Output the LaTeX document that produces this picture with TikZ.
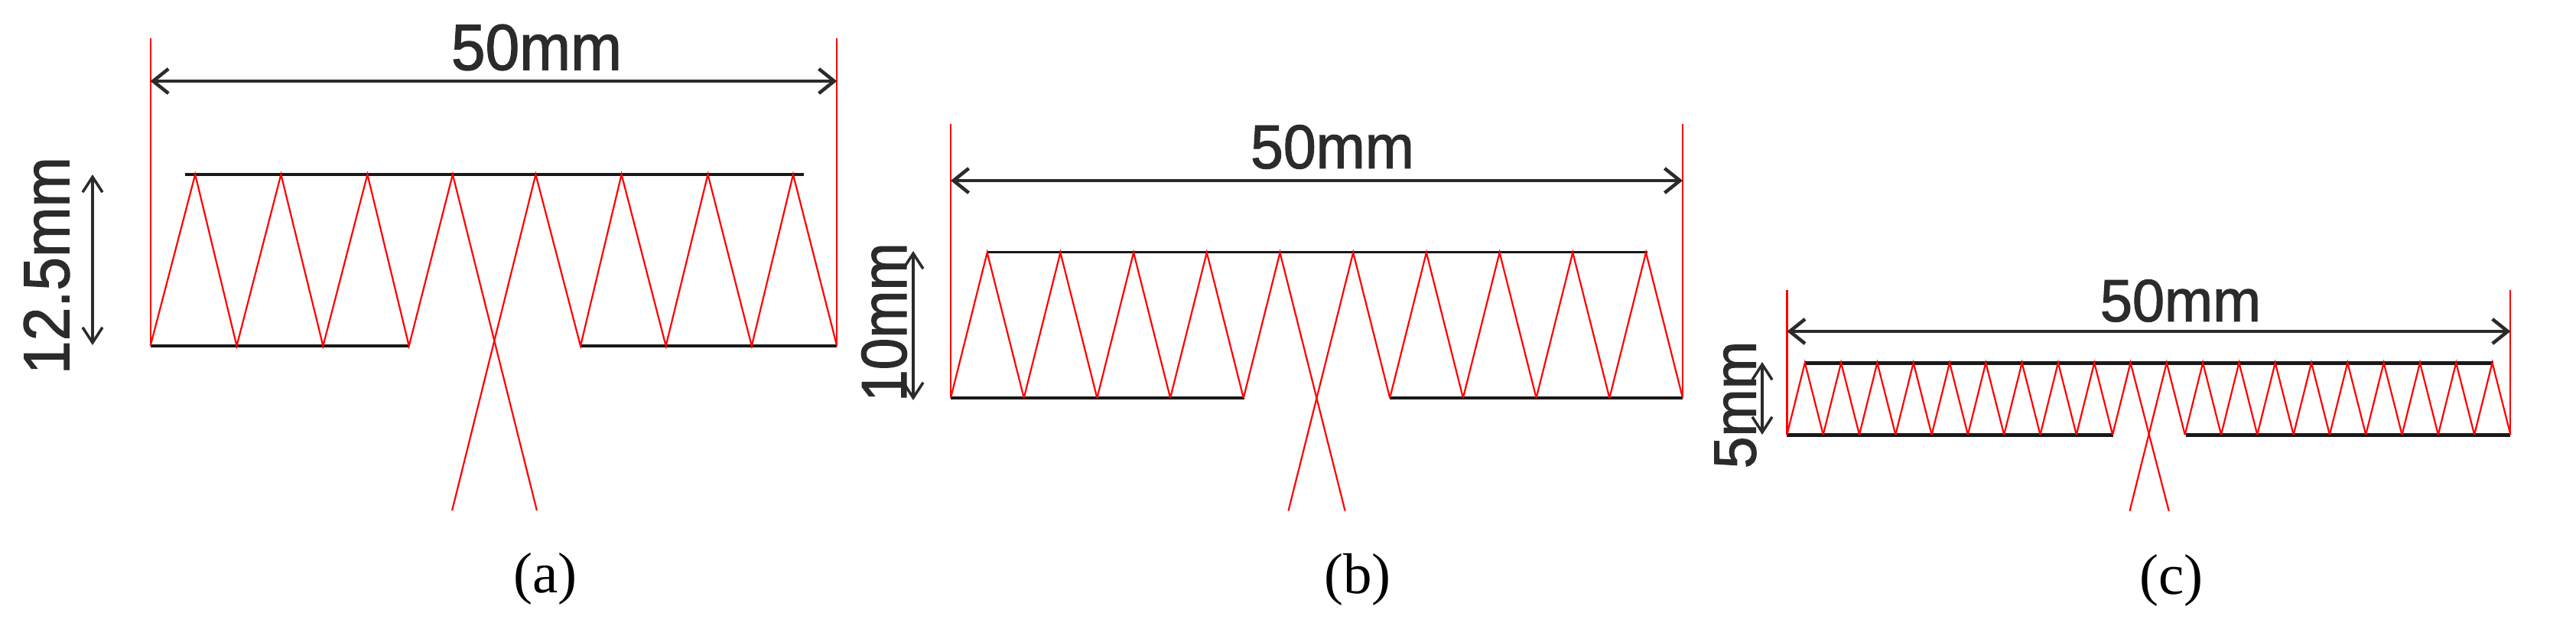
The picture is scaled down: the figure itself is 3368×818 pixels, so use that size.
\documentclass[tikz,border=0pt]{standalone}
\usepackage{fontspec}
\newfontfamily\labf[RawFeature={embolden=1.5}]{Liberation Sans}
\newfontfamily\capf{Liberation Serif}
\usetikzlibrary{arrows.meta}
\definecolor{ink}{HTML}{2B2B2B}
\tikzset{
  wire/.style={red,line width=2.2pt,line join=miter},
  bar/.style={black!90,line width=#1},
  bar/.default=3.5pt,
  dim/.style={ink,line width=4.5pt,{Straight Barb[length=20pt,width=32pt,line width=4.5pt]}-{Straight Barb[length=20pt,width=32pt,line width=4.5pt]}},
  vdim/.style={ink,line width=3.5pt,{Straight Barb[length=20pt,width=26pt,line width=3.5pt]}-{Straight Barb[length=20pt,width=26pt,line width=3.5pt]}},
  lab/.style={inner sep=0pt,text=ink,font=\labf\fontsize{#1}{#1}\selectfont},
  subcap/.style={inner sep=0pt,font=\capf\fontsize{75}{75}\selectfont},
}
% \zig{L}{P}{step}{n}{ytop}{ybot}{tailL}{tailR}{ytail}
\newcommand{\zig}[9]{%
  \pgfmathtruncatemacro{\nh}{#4/2}%
  \pgfmathtruncatemacro{\nn}{#4/2+1}%
  \foreach \i in {1,...,#4}{%
    \pgfmathsetmacro{\bl}{#1+(\i-1)*#3}%
    \pgfmathsetmacro{\br}{#1+\i*#3}%
    \pgfmathsetmacro{\pk}{#2+(\i-1)*#3}%
    \ifnum\i=\nh\relax
      \draw[wire] (\bl,#6) -- (\pk,#5) -- (#8,#9);
    \else
      \ifnum\i=\nn\relax
        \draw[wire] (#7,#9) -- (\pk,#5) -- (\br,#6);
      \else
        \draw[wire] (\bl,#6) -- (\pk,#5) -- (\br,#6);
      \fi
    \fi
  }%
}
\begin{document}
\begin{tikzpicture}[x=1pt,y=-1pt]
\useasboundingbox (0,0) rectangle (3368,818);
\fill[white] (0,0) rectangle (3368,818);

% panel (a)
\coordinate (aTL) at (196.6,50);  \coordinate (aBL) at (196.6,452);
\coordinate (aTR) at (1094.2,50); \coordinate (aBR) at (1094.2,452);
\draw[bar] (242,228) -- (1051,228);
\draw[bar] (aBL) -- (534.7,452);
\draw[bar] (759,452) -- (aBR);
\draw[wire] (aTL) -- (aBL);
\draw[wire] (aTR) -- (aBR);
\draw[wire] (aBL) -- (255.2,228) -- (309.5,452) -- (367.4,228) -- (422.4,452) -- (480.4,228) -- (534.7,452) -- (591.9,228) -- (701.9,667);
\draw[wire] (591.1,667) -- (700.4,228) -- (759,452) -- (812.6,228) -- (870.6,452) -- (925.5,228) -- (982.8,452) -- (1037,228) -- (aBR);
\draw[dim] (196.6,106) -- (1094.2,106);
\draw[vdim] (121,228) -- (121,451);
\node[lab=85,xscale=.945] (a50) at (701.5,62) {50mm};
\node[lab=85,rotate=90,xscale=.925] (a125) at (61,347) {12.5mm};
\node[subcap] (acap) at (713,756) {(a)};

% panel (b)
\coordinate (bTL) at (1243,162);  \coordinate (bBL) at (1243,520);
\coordinate (bTR) at (2200,162);  \coordinate (bBR) at (2200,520);
\draw[bar=3pt] (1290.7,330) -- (2153.9,330);
\draw[bar=4.5pt] (bBL) -- (1626.6,520);
\draw[bar=4.5pt] (1817.3,520) -- (bBR);
\draw[wire] (bTL) -- (bBL);
\draw[wire] (bTR) -- (bBR);
\zig{1243}{1290.7}{95.7}{10}{330}{520}{1684.5}{1758.6}{667.5}
\draw[dim] (1243,236) -- (2200,236);
\draw[vdim] (1194,328) -- (1194,523);
\node[lab=84,rotate=90,xscale=.89] (b10) at (1156,421) {10mm};
\node[lab=81,xscale=.95] (b50) at (1742,192) {50mm};
\node[subcap] (bcap) at (1775,757) {(b)};

% panel (c)
\coordinate (cTL) at (2336.4,379);  \coordinate (cBL) at (2336.4,568);
\coordinate (cTR) at (3282.3,379);  \coordinate (cBR) at (3282.3,568);
\draw[bar=5pt] (2359.8,474) -- (3259.6,474);
\draw[bar=5pt] (cBL) -- (2763.2,568);
\draw[bar=5pt] (2857.7,568) -- (cBR);
\draw[wire] (cTL) -- (cBL);
\draw[wire] (cTR) -- (cBR);
\zig{2336.4}{2359.8}{47.3}{20}{474}{568}{2784.5}{2835.7}{667.7}
\draw[dim] (2336.4,433) -- (3282.3,433);
\draw[vdim] (2304,473) -- (2304,568);
\node[lab=78,rotate=90,xscale=.96] (c5) at (2269,529) {5mm};
\node[lab=78,xscale=.97] (c50) at (2851,393) {50mm};
\node[subcap] (ccap) at (2839,758) {(c)};
\end{tikzpicture}
\end{document}
